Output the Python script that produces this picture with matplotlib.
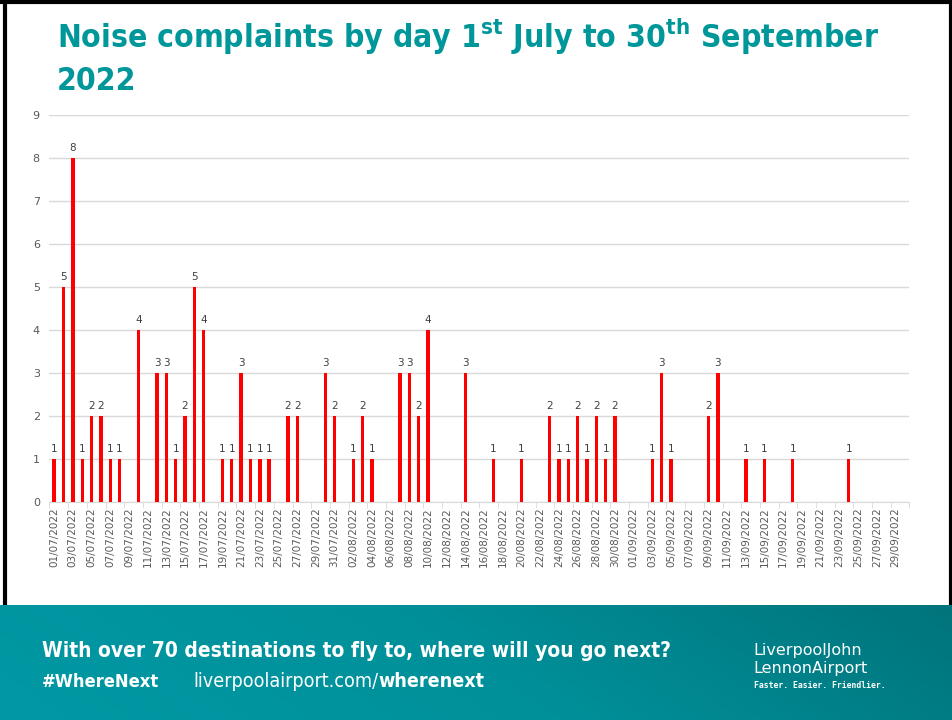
import datetime as dt
import numpy as np
import matplotlib.pyplot as plt
from matplotlib import font_manager as fm
from matplotlib.colors import LinearSegmentedColormap

# complaints per day, 01/07/2022 .. 30/09/2022 (days not listed = 0)
complaint_days = {
    "01/07": 1, "02/07": 5, "03/07": 8, "04/07": 1, "05/07": 2, "06/07": 2,
    "07/07": 1, "08/07": 1, "10/07": 4, "12/07": 3, "13/07": 3, "14/07": 1,
    "15/07": 2, "16/07": 5, "17/07": 4, "19/07": 1, "20/07": 1, "21/07": 3,
    "22/07": 1, "23/07": 1, "24/07": 1, "26/07": 2, "27/07": 2, "30/07": 3,
    "31/07": 2, "02/08": 1, "03/08": 2, "04/08": 1, "07/08": 3, "08/08": 3,
    "09/08": 2, "10/08": 4, "14/08": 3, "17/08": 1, "20/08": 1, "23/08": 2,
    "24/08": 1, "25/08": 1, "26/08": 2, "27/08": 1, "28/08": 2, "29/08": 1,
    "30/08": 2, "03/09": 1, "04/09": 3, "05/09": 1, "09/09": 2, "10/09": 3,
    "13/09": 1, "15/09": 1, "18/09": 1, "24/09": 1,
}

start = dt.date(2022, 7, 1)
dates = [start + dt.timedelta(days=i) for i in range(92)]
labels = [d.strftime("%d/%m/%Y") for d in dates]
counts = [complaint_days.get(d.strftime("%d/%m"), 0) for d in dates]


def condensed(bold=True):
    # look for a narrow face; fall back to DejaVu Sans
    wanted = ("bold", 700) if bold else ("normal", "regular", 400)
    for f in fm.fontManager.ttflist:
        narrow = "Narrow" in f.name or "Condensed" in f.name or f.stretch in (
            "condensed", "semi-condensed", "extra-condensed", 375, 250)
        if narrow and f.weight in wanted and f.style == "normal":
            return fm.FontProperties(fname=f.fname)
    return fm.FontProperties(family="DejaVu Sans",
                             weight="bold" if bold else "normal")


W, H = 953, 720
fig = plt.figure(figsize=(W / 100, H / 100), dpi=100)
renderer = fig.canvas.get_renderer()


def fit_text(xp, yp, s, width_px, size, fp, **kw):
    t = fig.text(xp / W, 1 - yp / H, s, fontproperties=fp, fontsize=size,
                 va="baseline", **kw)
    w = t.get_window_extent(renderer).width
    t.set_fontsize(size * width_px / w)
    return t


# chart area
ax = fig.add_axes([49.5 / W, 1 - 502 / H, 860 / W, 387 / H])
x = np.arange(len(dates))
ax.bar(x, counts, width=0.36, color="#ff0000", zorder=3)
for xi, c in zip(x, counts):
    if c > 0:
        ax.text(xi, c + 0.12, str(c), ha="center", va="bottom",
                fontsize=7.5, color="#404040")

ax.set_xlim(-0.5, len(dates) - 0.5)
ax.set_ylim(0, 9)
ax.set_yticks(range(10))
ax.grid(axis="y", color="#d9d9d9", linewidth=1, zorder=0)
for s in ["top", "right", "left"]:
    ax.spines[s].set_visible(False)
ax.spines["bottom"].set_color("#d9d9d9")
ax.tick_params(axis="y", length=0, labelsize=8, labelcolor="#595959", pad=7)

ax.set_xticks(x[::2])
ax.set_xticklabels(labels[::2], rotation=90, fontsize=7.5, color="#595959")
ax.tick_params(axis="x", length=0, pad=4)
ax.set_xticks(np.arange(-0.5, len(dates), 2), minor=True)
ax.tick_params(axis="x", which="minor", length=4, color="#d9d9d9")

# title
bold_c = condensed(True)
reg_c = condensed(False)
title = ("Noise complaints by day 1$^{\\mathregular{st}}$ July to "
         "30$^{\\mathregular{th}}$ September")
t1 = fit_text(57, 48, title, 823, 25, bold_c, color="#00979a")
fig.text(57 / W, 1 - 90 / H, "2022", fontproperties=bold_c,
         fontsize=t1.get_fontsize(), va="baseline", color="#00979a")

# bottom banner with gradient
bax = fig.add_axes([0, 0, 1, 115 / H])
cmap = LinearSegmentedColormap.from_list("teal", ["#0099a4", "#00909a", "#00747b"])
gx, gy = np.meshgrid(np.linspace(0, 1, 200), np.linspace(0, 1, 30))
bax.imshow(0.85 * gx + 0.15 * (1 - gy), cmap=cmap, aspect="auto", extent=[0, 1, 0, 1])
bax.set_xlim(0, 1)
bax.set_ylim(0, 1)
bax.axis("off")

fit_text(42, 657, "With over 70 destinations to fly to, where will you go next?",
         630, 15, bold_c, color="white")
fit_text(42, 687, "#WhereNext", 118, 14, bold_c, color="white")
url = fig.text(193 / W, 1 - 687 / H, "liverpoolairport.com/", fontproperties=reg_c,
               fontsize=14, va="baseline", color="white")
url_b = fig.text(193 / W, 1 - 687 / H, "wherenext", fontproperties=bold_c,
                 fontsize=14, va="baseline", color="white")
total = url.get_window_extent(renderer).width + url_b.get_window_extent(renderer).width
size = 14 * 293 / total
url.set_fontsize(size)
url_b.set_fontsize(size)
url_b.set_x((193 + url.get_window_extent(renderer).width) / W)

logo = fm.FontProperties(family="DejaVu Sans")
fig.text(753 / W, 1 - 655 / H, "LiverpoolJohn", fontproperties=logo, fontsize=11.5,
         va="baseline", color="white")
fig.text(753 / W, 1 - 673 / H, "LennonAirport", fontproperties=logo, fontsize=11.5,
         va="baseline", color="white")
fit_text(754, 688, "Faster. Easier. Friendlier.", 132, 7, fm.FontProperties(
    family="DejaVu Sans Mono", weight="bold"), color="white")

# black frame
frame = fig.add_axes([0, 0, 1, 1], facecolor="none", zorder=-1)
frame.set_xlim(0, W)
frame.set_ylim(H, 0)
frame.axis("off")
frame.plot([5, 5], [0, H], color="black", lw=3)
frame.plot([0, W], [1.5, 1.5], color="black", lw=3)
frame.plot([951.5, 951.5], [0, 605], color="black", lw=3)

fig.savefig("out.png", dpi=100)
